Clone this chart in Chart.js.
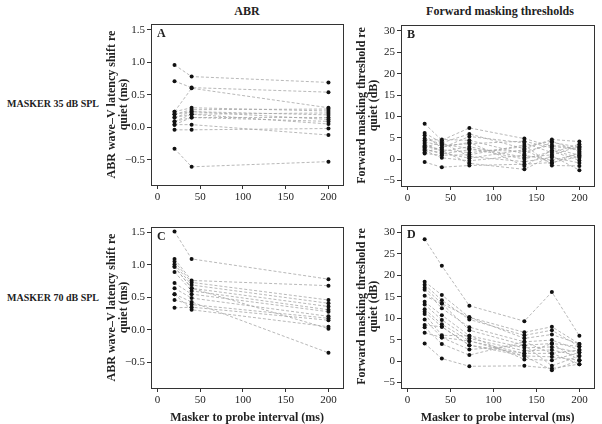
<!DOCTYPE html>
<html>
<head>
<meta charset="utf-8">
<script src="https://cdn.jsdelivr.net/npm/chart.js@4.4.1/dist/chart.umd.min.js"></script>
<style>
    body { margin: 0; width: 602px; height: 424px; background: #fff; position: relative; overflow: hidden; font-family: "Liberation Serif", serif; }
    .panel { position: absolute; }
    .lbl { position: absolute; font-weight: bold; color: #222; white-space: nowrap; transform: translate(-50%, -50%); }
</style>
</head>
<body>
<div class="lbl" style="left:247px; top:11px; font-size:12px;">ABR</div>
<div class="lbl" style="left:500px; top:11px; font-size:12px;">Forward masking thresholds</div>
<div class="lbl" style="left:53px; top:103px; font-size:10px;">MASKER 35 dB SPL</div>
<div class="lbl" style="left:53px; top:297px; font-size:10px;">MASKER 70 dB SPL</div>

<div class="panel" style="left:100px; top:0; width:250px; height:205px;"><canvas id="chart-a"></canvas></div>
<div class="panel" style="left:350px; top:0; width:252px; height:205px;"><canvas id="chart-b"></canvas></div>
<div class="panel" style="left:100px; top:205px; width:250px; height:219px;"><canvas id="chart-c"></canvas></div>
<div class="panel" style="left:350px; top:205px; width:252px; height:219px;"><canvas id="chart-d"></canvas></div>

<script>
// masker-probe intervals (ms)
const abrDelays = [20, 40, 200];
const fmDelays = [20, 40, 72, 136, 168, 200];

const delayTicks = [0, 50, 100, 150, 200];
const abrTicks = [-0.5, 0, 0.5, 1, 1.5];
const fmTicks = [-5, 0, 5, 10, 15, 20, 25, 30];

// ABR wave-V latency shift, masker 35 dB SPL (one row per listener)
const abr35 = [
    [0.96, 0.78, 0.69],
    [0.71, 0.61, 0.54],
    [0.24, 0.60, 0.30],
    [0.24, 0.30, 0.25],
    [0.20, 0.27, 0.28],
    [0.20, 0.24, 0.12],
    [0.15, 0.24, 0.19],
    [0.15, 0.20, 0.22],
    [0.09, 0.20, 0.05],
    [0.09, 0.15, 0.15],
    [0.04, 0.15, 0.09],
    [0.04, 0.04, -0.12],
    [-0.04, -0.04, -0.02],
    [-0.33, -0.61, -0.53],
];

// ABR wave-V latency shift, masker 70 dB SPL
const abr70 = [
    [1.51, 1.09, 0.78],
    [1.09, 0.76, 0.68],
    [1.05, 0.73, 0.46],
    [1.01, 0.69, 0.41],
    [0.97, 0.64, 0.36],
    [0.89, 0.60, 0.31],
    [0.72, 0.55, 0.28],
    [0.64, 0.49, 0.21],
    [0.55, 0.43, -0.35],
    [0.46, 0.39, 0.18],
    [0.34, 0.35, 0.15],
    [0.55, 0.31, 0.05],
    [0.97, 0.64, 0.02],
];

// forward masking threshold re quiet (dB), masker 35 dB SPL
const fm35 = [
    [8.3, 4.4, 7.3, 4.8, 3.0, 2.2],
    [6.1, 3.8, 5.9, 2.4, 4.6, 4.1],
    [5.6, 2.6, 5.3, 3.8, 1.5, 3.5],
    [4.4, 4.6, 4.4, 1.2, 3.9, 2.8],
    [4.0, 3.2, 3.6, 4.2, 2.6, 0.9],
    [3.6, 1.8, 2.9, 0.4, 1.0, 3.0],
    [3.2, 2.2, 1.5, 2.9, 4.2, 1.8],
    [2.8, 3.9, 0.6, -0.6, 0.4, -0.9],
    [2.4, 1.2, 2.2, 1.8, 3.3, 2.4],
    [2.0, 0.3, -0.4, 0.9, -0.3, 1.2],
    [1.6, 2.8, 3.9, -1.6, 2.1, 0.3],
    [1.3, 0.9, 1.0, 3.3, -1.5, -1.6],
    [3.0, 2.0, -1.0, -2.4, 0.8, -2.6],
    [-0.7, -1.9, -1.5, -1.2, -0.8, 0.6],
    [4.8, 3.5, 2.5, 0.0, 1.8, -0.3],
    [2.2, 1.5, 0.2, 2.2, -1.0, 1.5],
];

// forward masking threshold re quiet (dB), masker 70 dB SPL
const fm70 = [
    [28.4, 22.2, 12.9, 9.3, 16.1, 5.9],
    [18.5, 15.4, 10.2, 6.7, 8.0, 4.0],
    [17.8, 14.2, 9.7, 6.0, 7.2, 3.4],
    [17.1, 13.4, 10.2, 5.3, 6.2, 4.0],
    [16.6, 12.3, 7.9, 4.5, 4.9, 2.6],
    [15.2, 13.4, 7.2, 3.7, 4.1, 3.4],
    [13.8, 10.7, 5.9, 3.1, 3.3, 2.0],
    [13.2, 9.6, 5.3, 2.4, 2.6, 1.2],
    [12.1, 8.6, 4.7, 1.8, 1.8, 2.6],
    [11.5, 8.0, 3.7, 1.2, 1.0, 0.2],
    [11.0, 6.0, 5.9, 0.4, 0.2, 2.0],
    [9.7, 5.5, 2.7, 3.7, -1.1, 1.2],
    [8.4, 8.0, 3.7, 1.8, 4.1, 0.2],
    [7.9, 4.0, 1.4, 4.5, 1.8, -0.7],
    [6.6, 5.5, 4.7, 1.2, -2.1, 0.2],
    [4.1, 0.6, -1.2, -1.1, -1.7, -0.7],
];

const ink = '#222';
const tickFont = { family: '"Liberation Serif", serif', size: 11 };
const titleFont = { family: '"Liberation Serif", serif', size: 12, weight: 'bold', lineHeight: 1.0 };
const minus = (v, digits) => v.toFixed(digits).replace('-', '\u2212');

const boxPlugin = {
    id: 'box',
    afterDraw(chart, args, opts) {
        const { ctx, chartArea: a } = chart;
        ctx.save();
        ctx.strokeStyle = '#333';
        ctx.lineWidth = 1;
        ctx.strokeRect(Math.round(a.left) + 0.5, Math.round(a.top) + 0.5,
            Math.round(a.right - a.left), Math.round(a.bottom - a.top));
        ctx.fillStyle = ink;
        ctx.font = 'bold 12px "Liberation Serif", serif';
        ctx.textBaseline = 'top';
        ctx.fillText(opts.letter, a.left + 6, a.top + 4);
        ctx.restore();
    },
};

function makePanel(id, cfg) {
    const datasets = cfg.rows.map(row => ({
        data: cfg.xs.map((x, i) => ({ x, y: row[i] })),
        borderColor: '#a6a6a6',
        borderWidth: 0.8,
        borderDash: [3, 2],
        pointRadius: 2,
        pointBackgroundColor: '#111',
        pointBorderWidth: 0,
        fill: false,
        tension: 0,
    }));

    new Chart(document.getElementById(id), {
        type: 'line',
        data: { datasets },
        plugins: [boxPlugin],
        options: {
            maintainAspectRatio: false,
            responsive: true,
            animation: false,
            layout: { padding: { top: cfg.padTop, right: cfg.padRight, left: 0, bottom: 0 } },
            scales: {
                x: {
                    type: 'linear',
                    min: -7.5,
                    max: 217,
                    afterBuildTicks: s => { s.ticks = delayTicks.map(v => ({ value: v })); },
                    afterFit: s => { s.height = cfg.xAxisH; },
                    border: { display: false },
                    grid: { drawOnChartArea: false, tickLength: 4, color: '#333' },
                    ticks: { font: tickFont, color: ink, padding: 2, maxRotation: 0 },
                    title: {
                        display: !!cfg.xTitle,
                        text: cfg.xTitle,
                        font: titleFont,
                        color: ink,
                        padding: { top: 1, bottom: 0 },
                    },
                },
                y: {
                    min: cfg.yMin,
                    max: cfg.yMax,
                    afterBuildTicks: s => { s.ticks = cfg.yTicks.map(v => ({ value: v })); },
                    afterFit: s => { s.width = cfg.yAxisW; },
                    border: { display: false },
                    grid: { drawOnChartArea: false, tickLength: 4, color: '#333' },
                    ticks: {
                        font: tickFont,
                        color: ink,
                        padding: 2,
                        callback: v => minus(v, cfg.digits),
                    },
                    title: {
                        display: true,
                        text: cfg.yTitle,
                        font: titleFont,
                        color: ink,
                        padding: { top: 6, bottom: 0 },
                    },
                },
            },
            plugins: {
                legend: { display: false },
                tooltip: { enabled: false },
                box: { letter: cfg.letter },
            },
        },
    });
}

const abrTitle = ['ABR wave\u2013V latency shift re', 'quiet (ms)'];
const fmTitle = ['Forward masking threshold re', 'quiet (dB)'];
const xTitle = 'Masker to probe interval (ms)';

makePanel('chart-a', {
    xs: abrDelays, rows: abr35, yMin: -0.89, yMax: 1.59, yTicks: abrTicks, digits: 1,
    yTitle: abrTitle, letter: 'A', padTop: 24, padRight: 7, yAxisW: 51, xAxisH: 20,
});
makePanel('chart-b', {
    xs: fmDelays, rows: fm35, yMin: -6.3, yMax: 31.4, yTicks: fmTicks, digits: 0,
    yTitle: fmTitle, letter: 'B', padTop: 25, padRight: 8, yAxisW: 51, xAxisH: 19,
});
makePanel('chart-c', {
    xs: abrDelays, rows: abr70, yMin: -0.89, yMax: 1.58, yTicks: abrTicks, digits: 1,
    yTitle: abrTitle, letter: 'C', padTop: 22, padRight: 7, yAxisW: 51, xAxisH: 36, xTitle,
});
makePanel('chart-d', {
    xs: fmDelays, rows: fm70, yMin: -6.26, yMax: 31.7, yTicks: fmTicks, digits: 0,
    yTitle: fmTitle, letter: 'D', padTop: 20, padRight: 8, yAxisW: 51, xAxisH: 36, xTitle,
});
</script>
</body>
</html>
